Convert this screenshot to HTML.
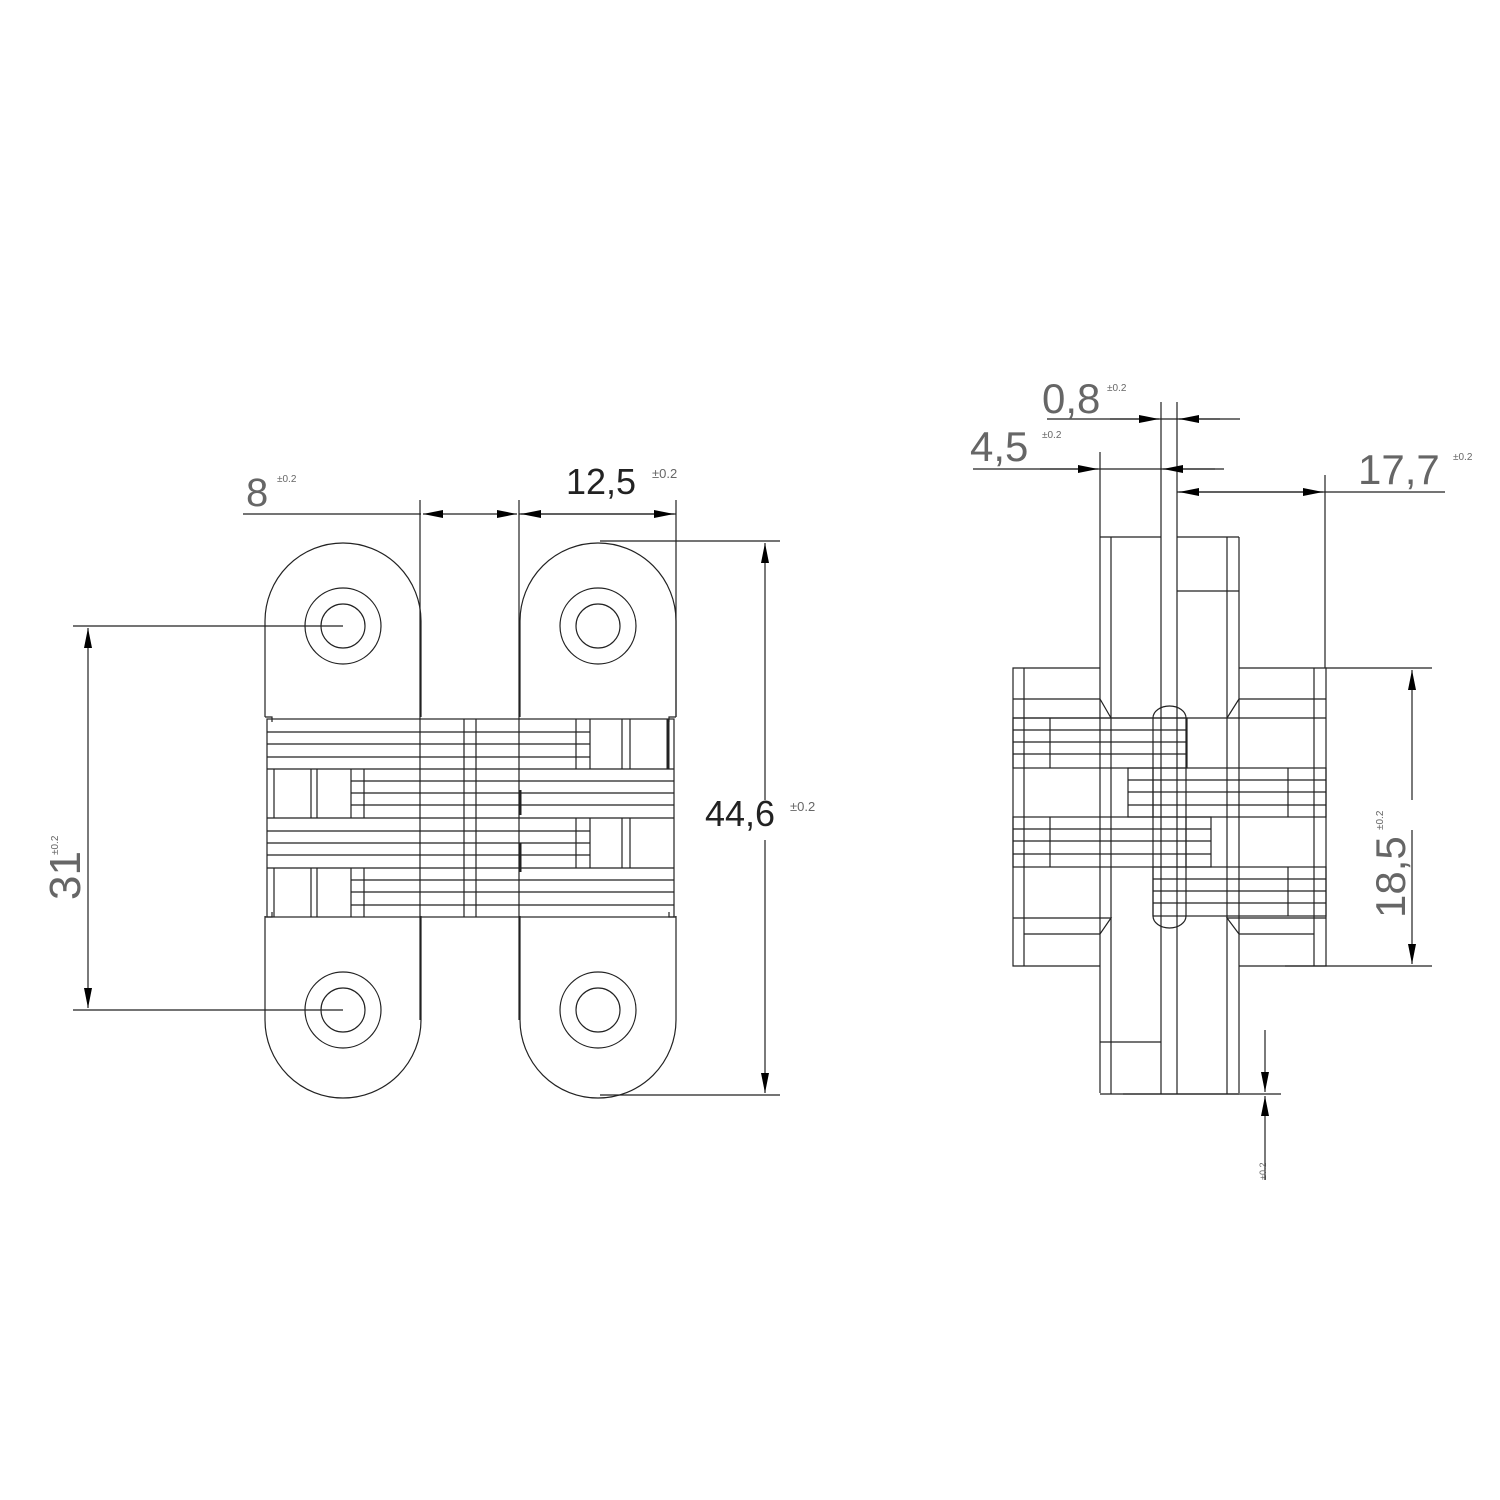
<!DOCTYPE html>
<html><head><meta charset="utf-8"><style>html,body{margin:0;padding:0;background:#fff}svg{display:block}</style></head>
<body>
<svg width="1500" height="1500" viewBox="0 0 1500 1500" xmlns="http://www.w3.org/2000/svg">
<defs>
<marker id="a" viewBox="0 0 20 8" refX="20" refY="4" markerWidth="20" markerHeight="8" markerUnits="userSpaceOnUse" orient="auto"><path d="M0,0 L20,4 L0,8z" fill="#000"/></marker>
</defs>
<g fill="none" stroke="#222" stroke-width="1.2">
<!-- LEFT VIEW leaves -->
<path d="M265,717 L265,621 A78,78 0 0 1 421,621 L421,717"/>
<path d="M520,717 L520,621 A78,78 0 0 1 676,621 L676,717"/>
<path d="M265,916 L265,1020 A78,78 0 0 0 421,1020 L421,916"/>
<path d="M520,916 L520,1020 A78,78 0 0 0 676,1020 L676,916"/>
<circle cx="343" cy="626" r="38"/><circle cx="343" cy="626" r="22"/>
<circle cx="598" cy="626" r="38"/><circle cx="598" cy="626" r="22"/>
<circle cx="343" cy="1010" r="38"/><circle cx="343" cy="1010" r="22"/>
<circle cx="598" cy="1010" r="38"/><circle cx="598" cy="1010" r="22"/>
<!-- bands -->
<rect x="267" y="719" width="407" height="198"/>
<path d="M267,769H674M267,818H674M267,868H674"/>
<path d="M267,732H590M267,744H590M267,757H590"/>
<path d="M267,831H590M267,843H590M267,855H590"/>
<path d="M351,781H674M351,793H674M351,805H674"/>
<path d="M351,880H674M351,892H674M351,905H674"/>
<path d="M420,500V1020M519,500V1020M464,719V917M476,719V917"/>
<path d="M576,719V769M590,719V769M576,818V868M590,818V868"/>
<path d="M622,719V769M630,719V769M622,818V868M630,818V868"/>
<path d="M351,769V818M364,769V818M351,868V917M364,868V917"/>
<path d="M274,769V818M311,769V818M317,769V818M274,868V917M311,868V917M317,868V917"/>
<path d="M668,719V769" stroke-width="3"/>
<path d="M520,790V815M520,843V872" stroke-width="3"/>
<path d="M265,717H272V722M676,717H669V722M265,917H272V912M676,917H669V912"/>
<!-- left dims -->
<path d="M243,514H421M519,514H676"/>
<path d="M470,514H423" marker-end="url(#a)"/><path d="M470,514H517" marker-end="url(#a)"/>
<path d="M598,514H521" marker-end="url(#a)"/><path d="M598,514H674" marker-end="url(#a)"/>
<path d="M676,500V717"/>
<path d="M600,541H780M600,1095H780"/>
<path d="M765,800V543" marker-end="url(#a)"/><path d="M765,840V1093" marker-end="url(#a)"/>
<path d="M73,626H343M73,1010H343"/>
<path d="M88,810V628" marker-end="url(#a)"/><path d="M88,810V1008" marker-end="url(#a)"/>

<!-- RIGHT VIEW -->
<path d="M1100,537V1093M1239,537V1093M1100,537H1161M1177,537H1239M1100,1094H1239"/>
<path d="M1111,537V1094M1161,402V1094M1177,402V1094M1227,537V1094"/>
<path d="M1177,591H1239M1100,1042H1161"/>
<path d="M1100,668H1013V966H1100M1239,668H1326V966H1239"/>
<path d="M1024,668V966M1314,668V966"/>
<path d="M1013,699H1100L1111,718M1326,699H1239L1227,718"/>
<path d="M1013,918H1111L1100,934M1326,918H1227L1239,934M1024,934H1100M1239,934H1314"/>
<path d="M1013,718H1326"/>
<rect x="1013" y="718" width="174" height="50"/>
<path d="M1013,730H1187M1013,742H1187M1013,754H1187M1050,718V768"/>
<rect x="1128" y="768" width="198" height="49"/>
<path d="M1128,780H1326M1128,792H1326M1128,805H1326M1153,768V817M1288,768V817"/>
<rect x="1013" y="817" width="198" height="50"/>
<path d="M1013,829H1211M1013,841H1211M1013,854H1211M1050,817V867M1186,817V867"/>
<rect x="1153" y="867" width="173" height="49"/>
<path d="M1153,879H1326M1153,891H1326M1153,903H1326M1288,867V916"/>
<path d="M1153,718V916M1186,718V916"/>
<path d="M1153,718A16.5,12 0 0 1 1186,718M1153,916A16.5,12 0 0 0 1186,916"/>
<!-- right dims -->
<path d="M1047,419H1240"/>
<path d="M1110,419H1159" marker-end="url(#a)"/><path d="M1220,419H1179" marker-end="url(#a)"/>
<path d="M973,469H1224"/>
<path d="M1040,469H1098" marker-end="url(#a)"/><path d="M1215,469H1163" marker-end="url(#a)"/>
<path d="M1100,452V537"/>
<path d="M1177,492H1445"/>
<path d="M1250,492H1179" marker-end="url(#a)"/><path d="M1250,492H1323" marker-end="url(#a)"/>
<path d="M1325,475V668"/>
<path d="M1326,668H1432M1285,966H1432"/>
<path d="M1412,800V670" marker-end="url(#a)"/><path d="M1412,830V964" marker-end="url(#a)"/>
<path d="M1123,1094H1281"/>
<path d="M1265,1030V1092" marker-end="url(#a)"/><path d="M1265,1180V1096" marker-end="url(#a)"/>
</g>
<g font-family="Liberation Sans, sans-serif" fill="#666">
<text x="246" y="506" font-size="40">8</text>
<text x="277" y="482" font-size="10">±0.2</text>
<text x="566" y="494" font-size="36" fill="#222">12,5</text>
<text x="652" y="478" font-size="13">±0.2</text>
<text x="705" y="826" font-size="36" fill="#222">44,6</text>
<text x="790" y="811" font-size="13">±0.2</text>
<text transform="translate(80,900) rotate(-90)" font-size="44">31</text>
<text transform="translate(58,855) rotate(-90)" font-size="10">±0.2</text>
<text x="1042" y="413" font-size="42">0,8</text>
<text x="1107" y="391" font-size="10">±0.2</text>
<text x="970" y="461" font-size="42">4,5</text>
<text x="1042" y="438" font-size="10">±0.2</text>
<text x="1358" y="484" font-size="42">17,7</text>
<text x="1453" y="460" font-size="10">±0.2</text>
<text transform="translate(1405,918) rotate(-90)" font-size="42">18,5</text>
<text transform="translate(1383,830) rotate(-90)" font-size="10">±0.2</text>
<text transform="translate(1266,1180) rotate(-90)" font-size="9">±0.2</text>
</g>
</svg>
</body></html>
